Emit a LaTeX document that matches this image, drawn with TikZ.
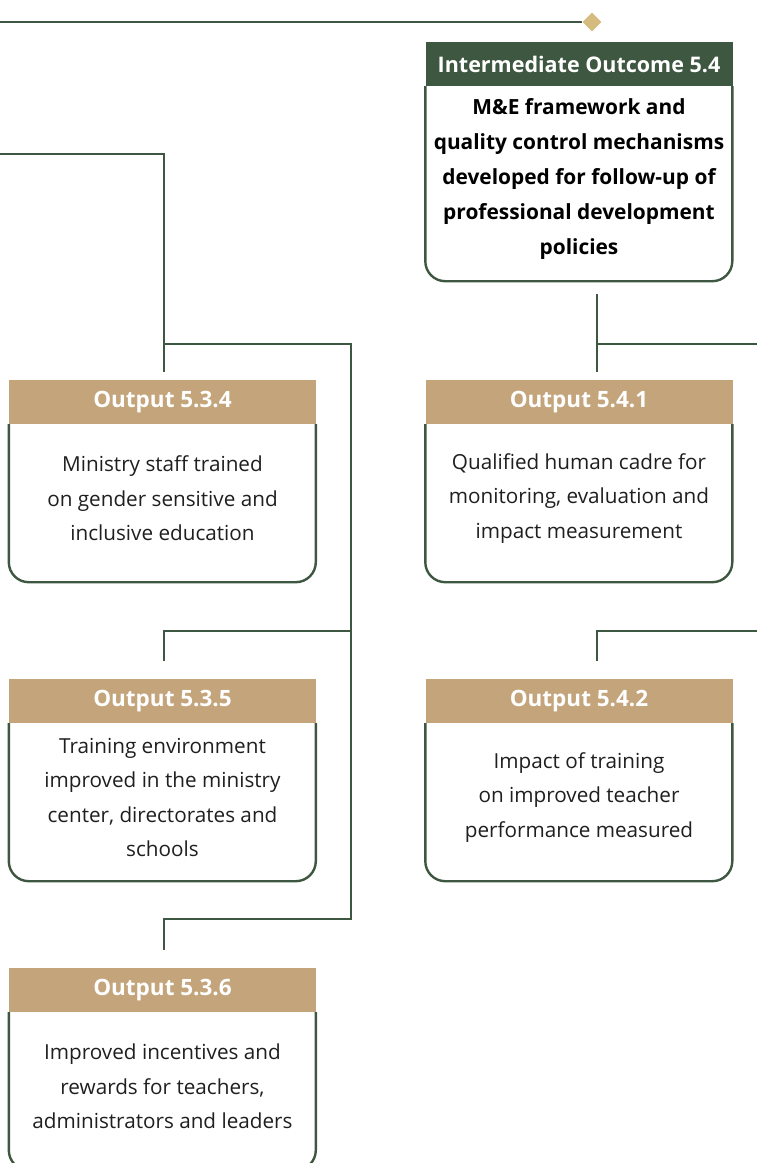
\documentclass[tikz,border=0pt]{standalone}
\usepackage{fontspec}
\setmainfont{Open Sans}
\usetikzlibrary{positioning,shapes.geometric}
\definecolor{mgreen}{RGB}{62,87,64}
\definecolor{mtan}{RGB}{195,164,123}
\definecolor{mgold}{RGB}{214,187,128}

\tikzset{
  head/.style={fill=mtan,text=white,font=\bfseries\fontsize{22.5}{26}\selectfont,
    minimum width=307pt,minimum height=44pt,inner sep=0pt},
  body/.style={minimum width=307pt,minimum height=158pt,inner sep=0pt,yshift=5pt,
    align=center,text=black!88,font=\fontsize{20.7}{34.3}\selectfont},
  frame/.style={draw=mgreen,line width=2.4pt,rounded corners=20pt},
  link/.style={draw=mgreen,line width=2.4pt}
}

\begin{document}
\begin{tikzpicture}[x=1pt,y=-1pt]
  \useasboundingbox (0,0) rectangle (757,1163);

  \node[diamond,fill=mgold,minimum size=19pt,inner sep=0pt] (dia) at (592,22) {};
  \coordinate (topin) at (0,22);
  \draw[link] (topin) -- (dia.west);

  \node[head,fill=mgreen,font=\bfseries\fontsize{21.5}{26}\selectfont] (h54) at (579,64) {Intermediate Outcome 5.4};
  \node[body,minimum height=195pt,text=black,font=\bfseries\fontsize{20.9}{35}\selectfont,below=0pt of h54] (b54)
    {M\&E framework and\\quality control mechanisms\\developed for follow-up of\\professional development\\policies};
  \draw[frame] (h54.south west) -- ++(0,195) -- ++(307,0) -- ++(0,-195);

  \node[head] (h534) at (162.5,402) {Output 5.3.4};
  \node[body,below=0pt of h534] (b534) {Ministry staff trained\\on gender sensitive and\\inclusive education};
  \draw[frame] (h534.south west) -- ++(0,158) -- ++(307,0) -- ++(0,-158);

  \node[head] (h535) at (162.5,701) {Output 5.3.5};
  \node[body,below=0pt of h535] (b535) {Training environment\\improved in the ministry\\center, directorates and\\schools};
  \draw[frame] (h535.south west) -- ++(0,158) -- ++(307,0) -- ++(0,-158);

  \node[head] (h536) at (162.5,990) {Output 5.3.6};
  \node[body,below=0pt of h536] (b536) {Improved incentives and\\rewards for teachers,\\administrators and leaders};
  \draw[frame] (h536.south west) -- ++(0,158) -- ++(307,0) -- ++(0,-158);

  \node[head] (h541) at (579,402) {Output 5.4.1};
  \node[body,below=0pt of h541] (b541) {Qualified human cadre for\\monitoring, evaluation and\\impact measurement};
  \draw[frame] (h541.south west) -- ++(0,158) -- ++(307,0) -- ++(0,-158);

  \node[head] (h542) at (579,701) {Output 5.4.2};
  \node[body,below=0pt of h542] (b542) {Impact of training\\on improved teacher\\performance measured};
  \draw[frame] (h542.south west) -- ++(0,158) -- ++(307,0) -- ++(0,-158);

  \coordinate (leftin) at (0,154);
  \coordinate (ja) at (164,344);
  \coordinate (jb) at (351,919);
  \coordinate (jc) at (351,631);
  \coordinate (rj) at (597,344);
  \coordinate (rout) at (757,344);
  \coordinate (rout2) at (757,631);
  \draw[link] (leftin) -| ([xshift=1.5pt,yshift=8pt]h534.north);
  \draw[link] (ja) -| (jb) -| ([xshift=1.5pt,yshift=18pt]h536.north);
  \draw[link] (jc) -| ([xshift=1.5pt,yshift=18pt]h535.north);
  \draw[link] ([xshift=18pt,yshift=-17pt]b54.south) -- ([xshift=18pt,yshift=8pt]h541.north);
  \draw[link] (rout) -- (rj);
  \draw[link] (rout2) -| ([xshift=18pt,yshift=18pt]h542.north);
\end{tikzpicture}
\end{document}
